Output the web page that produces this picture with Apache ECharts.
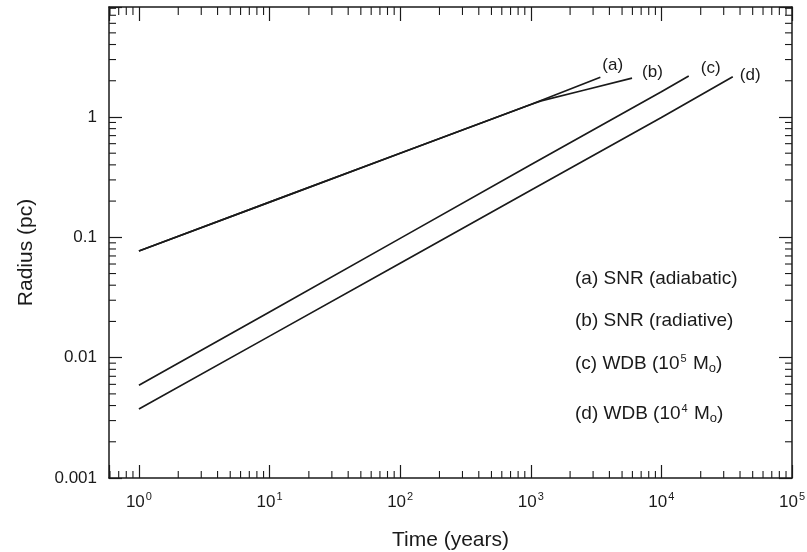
<!DOCTYPE html>
<html>
<head>
<meta charset="utf-8">
<script src="https://cdn.jsdelivr.net/npm/echarts@6/dist/echarts.min.js"></script>
<style>
    html, body { margin: 0; padding: 0; background: #fff; }
    #chart { width: 807px; height: 552px; }
</style>
</head>
<body>
<div id="chart"></div>
<script>
// values (time in years, radius in pc)
const timeA = [1, 10, 100, 1000, 3410];
const radiusA = [0.077, 0.196, 0.50, 1.27, 2.14];

const timeB = [1, 10, 100, 1000, 1200, 2500, 5960];
const radiusB = [0.077, 0.196, 0.50, 1.27, 1.36, 1.66, 2.10];

const timeC = [1, 10, 100, 1000, 10000, 16200];
const radiusC = [0.0059, 0.024, 0.098, 0.40, 1.62, 2.19];

const timeD = [1, 10, 100, 1000, 10000, 35200];
const radiusD = [0.00374, 0.0151, 0.061, 0.246, 0.99, 2.16];

const curveLabels = ['(a)', '(b)', '(c)', '(d)'];
const labelOffsets = [[-6, -12], [2, -6], [4, -8], [-1, -1]];

const xMin = 0.59, xMax = 100000;
const yMin = 0.001, yMax = 8.2;

const FONT = '"Liberation Sans", Arial, sans-serif';
const INK = '#1a1a1a';

// minor tick values 2..9 x 10^k inside the axis ranges
function minorValues(lo, hi) {
    const out = [];
    for (let k = -4; k <= 5; k++) {
        for (let m = 2; m <= 9; m++) {
            const v = m * Math.pow(10, k);
            if (v > lo * 1.0001 && v < hi * 0.9999) out.push(v);
        }
    }
    return out;
}
const xMinor = minorValues(xMin, xMax);
const yMinor = minorValues(yMin, yMax);

function isDecade(v) {
    const l = Math.log10(v);
    return Math.abs(l - Math.round(l)) < 1e-6;
}

const chart = echarts.init(document.getElementById('chart'), null, { renderer: 'canvas' });

const makeLine = (name, ts, rs, idx) => ({
    name: name,
    type: 'line',
    data: ts.map((t, i) => [t, rs[i]]),
    showSymbol: false,
    symbol: 'none',
    smooth: false,
    lineStyle: { color: INK, width: 1.7 },
    endLabel: {
        show: true,
        formatter: curveLabels[idx],
        offset: labelOffsets[idx],
        color: INK,
        fontFamily: FONT,
        fontSize: 17
    },
    animation: false,
    z: 3
});

const baseAxis = {
    type: 'log',
    logBase: 10,
    axisLine: { show: true, onZero: false, lineStyle: { color: INK, width: 1.5 } },
    axisTick: { show: true, inside: true, length: 13, lineStyle: { color: INK, width: 1.2 } },
    splitLine: { show: false },
    minorTick: { show: false }
};

const legendRich = {
    n: { fontSize: 19, fontFamily: FONT, fill: INK },
    sup: { fontSize: 11, fontFamily: FONT, fill: INK, padding: [0, 1, 11, 1] },
    sub: { fontSize: 13, fontFamily: FONT, fill: INK, padding: [9, 0, 0, 0] }
};

const option = {
    backgroundColor: '#fff',
    animation: false,
    grid: { left: 109, top: 7, width: 683, height: 471, containLabel: false, outerBoundsMode: 'none' },
    xAxis: [
        Object.assign({}, baseAxis, {
            position: 'bottom',
            min: xMin, max: xMax,
            name: 'Time (years)',
            nameLocation: 'middle',
            nameGap: 52,
            nameTextStyle: { color: INK, fontFamily: FONT, fontSize: 21 },
            axisLabel: {
                margin: 13,
                color: INK,
                fontFamily: FONT,
                formatter: v => isDecade(v) ? '{b|10}{s|' + Math.round(Math.log10(v)) + '}' : '',
                rich: {
                    b: { fontSize: 17, fontFamily: FONT, color: INK },
                    s: { fontSize: 11, fontFamily: FONT, color: INK, padding: [0, 0, 11, 1] }
                }
            }
        }),
        Object.assign({}, baseAxis, {
            position: 'top',
            min: xMin, max: xMax,
            axisLabel: { show: false },
            axisTick: { show: true, inside: true, length: 14, lineStyle: { color: INK, width: 1.2 } }
        })
    ],
    yAxis: [
        Object.assign({}, baseAxis, {
            position: 'left',
            min: yMin, max: yMax,
            name: 'Radius (pc)',
            nameLocation: 'middle',
            nameGap: 72,
            nameTextStyle: { color: INK, fontFamily: FONT, fontSize: 21, padding: [0, 0, 0, -20] },
            axisLabel: {
                margin: 12,
                color: INK,
                fontFamily: FONT,
                fontSize: 17,
                formatter: v => isDecade(v) ? String(+v.toPrecision(1)) : ''
            }
        }),
        Object.assign({}, baseAxis, {
            position: 'right',
            min: yMin, max: yMax,
            axisLabel: { show: false }
        })
    ],
    graphic: [
        { type: 'text', left: 575, top: 269, style: { text: '(a) SNR (adiabatic)', font: '19px ' + FONT, fill: INK } },
        { type: 'text', left: 575, top: 311, style: { text: '(b) SNR (radiative)', font: '19px ' + FONT, fill: INK } },
        {
            type: 'text', left: 575, top: 353,
            style: { text: '{n|(c) WDB (10}{sup|5}{n| M}{sub|o}{n|)}', fill: INK, rich: legendRich }
        },
        {
            type: 'text', left: 575, top: 403,
            style: { text: '{n|(d) WDB (10}{sup|4}{n| M}{sub|o}{n|)}', fill: INK, rich: legendRich }
        }
    ],
    series: [
        makeLine('SNR (adiabatic)', timeA, radiusA, 0),
        makeLine('SNR (radiative)', timeB, radiusB, 1),
        makeLine('WDB 1e5', timeC, radiusC, 2),
        makeLine('WDB 1e4', timeD, radiusD, 3),
        {
            // minor ticks on all four sides, placed through the log scales
            type: 'custom',
            silent: true,
            data: [[1, 1]],
            animation: false,
            z: 4,
            renderItem: function (params, api) {
                const bottom = api.coord([1, yMin])[1];
                const top = api.coord([1, yMax])[1];
                const left = api.coord([xMin, 1])[0];
                const right = api.coord([xMax, 1])[0];
                const style = { stroke: INK, lineWidth: 1.1 };
                const children = [];
                xMinor.forEach(v => {
                    const x = api.coord([v, 1])[0];
                    children.push({ type: 'line', shape: { x1: x, y1: bottom, x2: x, y2: bottom - 7 }, style: style });
                    children.push({ type: 'line', shape: { x1: x, y1: top, x2: x, y2: top + 8 }, style: style });
                });
                yMinor.forEach(v => {
                    const y = api.coord([1, v])[1];
                    children.push({ type: 'line', shape: { x1: left, y1: y, x2: left + 7, y2: y }, style: style });
                    children.push({ type: 'line', shape: { x1: right, y1: y, x2: right - 7, y2: y }, style: style });
                });
                return { type: 'group', children: children };
            }
        }
    ]
};

chart.setOption(option);
</script>
</body>
</html>
